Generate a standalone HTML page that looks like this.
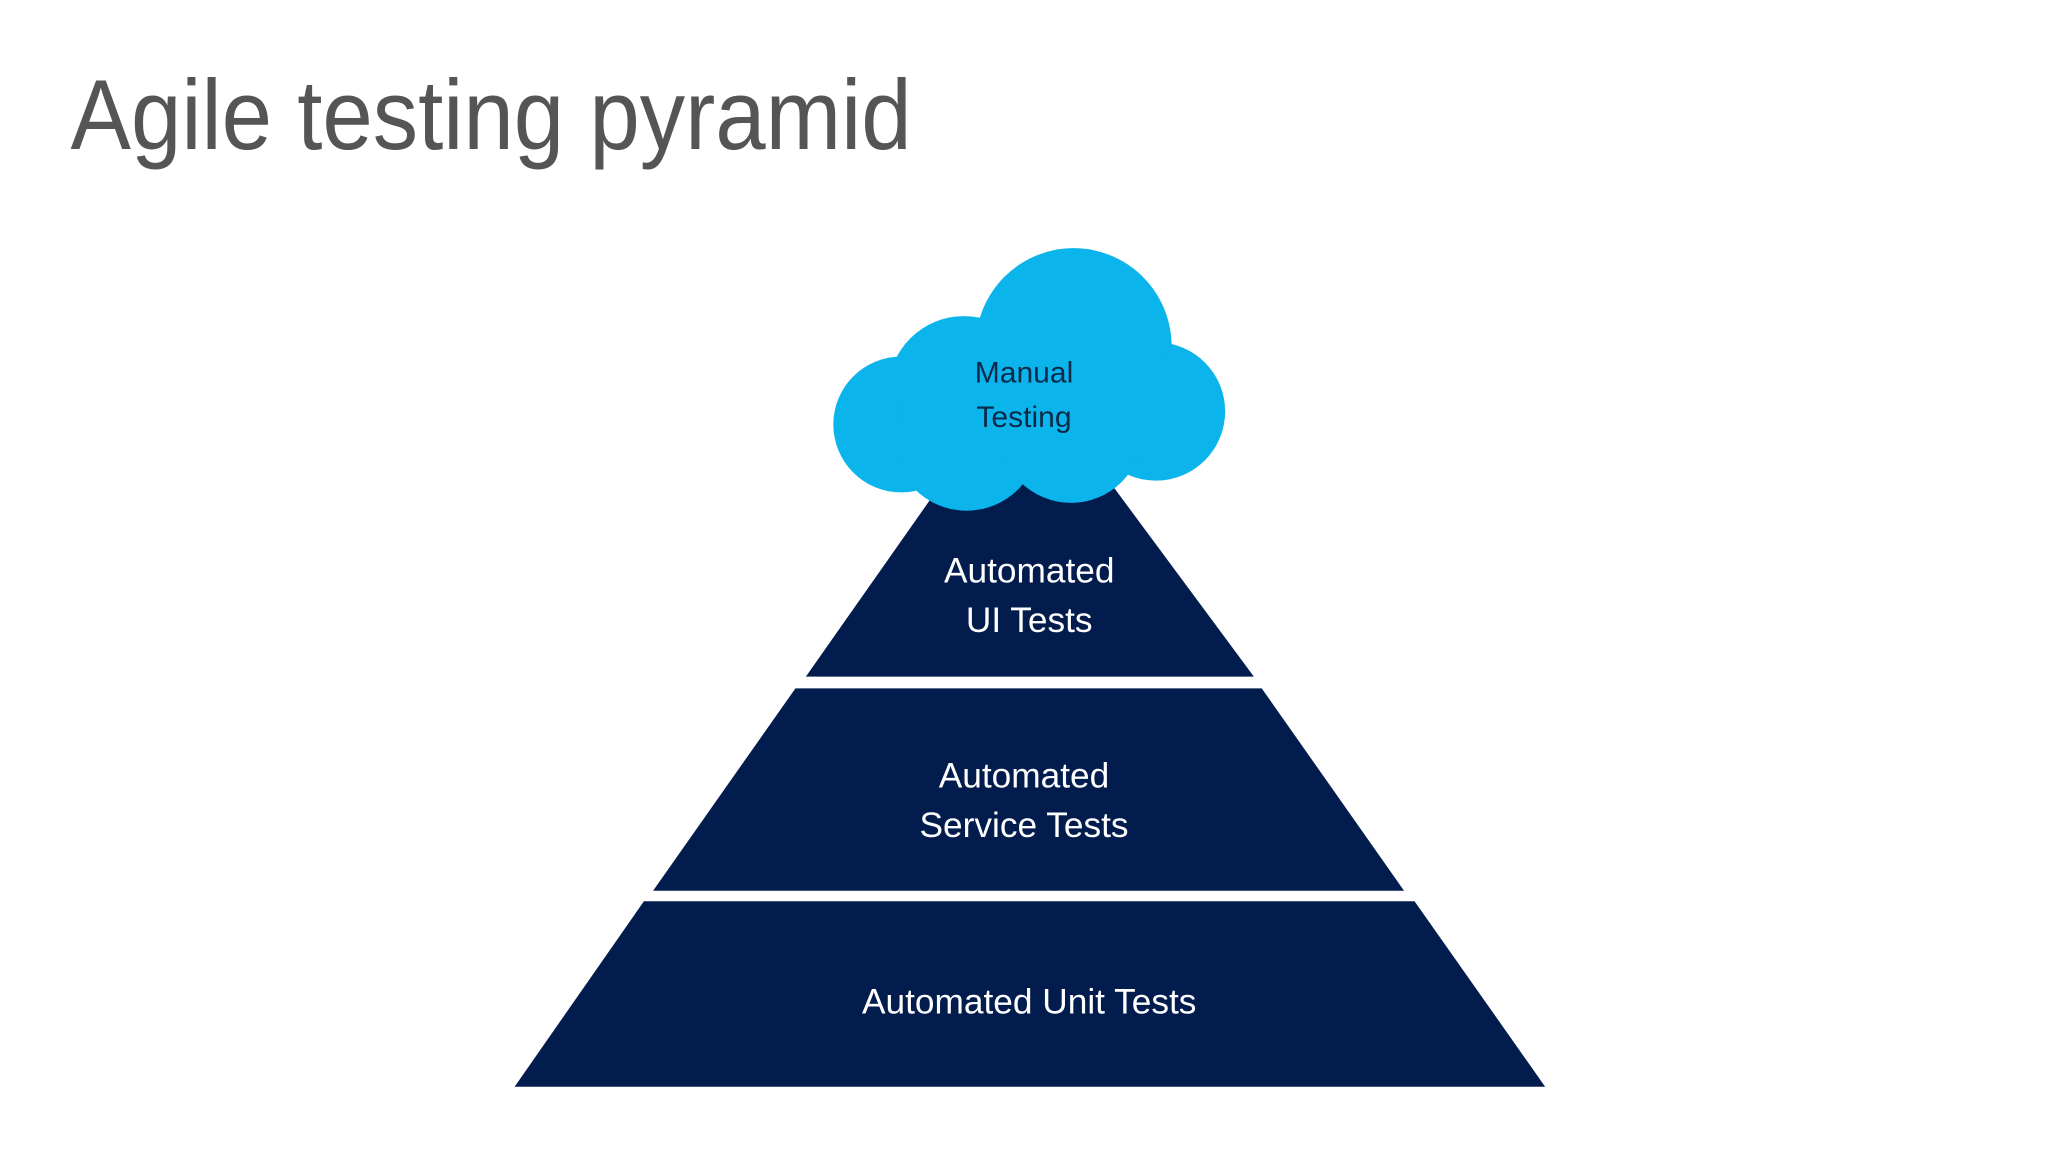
<!DOCTYPE html>
<html><head><meta charset="utf-8"><style>
html,body{margin:0;padding:0;background:#fff;}
svg{display:block;}
</style></head><body>
<svg width="2048" height="1152" viewBox="0 0 1568 882" xmlns="http://www.w3.org/2000/svg">
<rect width="1568" height="882" fill="#fff"/>
<text x="54" y="114" font-family="Liberation Sans, sans-serif" font-size="76" fill="#555" textLength="644" lengthAdjust="spacingAndGlyphs">Agile testing pyramid</text>
<g fill="#031c4e">
<polygon points="493,690 1083,690 1183,832 394,832"/>
<polygon points="609,527 966,527 1075,682 500,682"/>
<polygon points="728,360 843,360 960,518 617,518"/>
</g>
<g fill="#0bb4eb">
<circle cx="822" cy="265" r="75"/>
<circle cx="738" cy="300" r="58"/>
<circle cx="690" cy="325" r="52"/>
<circle cx="885" cy="315" r="53"/>
<circle cx="740" cy="335" r="56"/>
<circle cx="820" cy="330" r="55"/>
<rect x="690" y="270" width="200" height="80"/>
</g>
<g font-family="Liberation Sans, sans-serif" text-anchor="middle">
<text x="784" y="293" font-size="23" fill="#0d2a4a">Manual</text>
<text x="784" y="327" font-size="23" fill="#0d2a4a">Testing</text>
<g fill="#fff" font-size="27">
<text x="788" y="446">Automated</text>
<text x="788" y="484">UI Tests</text>
<text x="784" y="603">Automated</text>
<text x="784" y="641">Service Tests</text>
<text x="788" y="776">Automated Unit Tests</text>
</g>
</g>
</svg>
</body></html>
